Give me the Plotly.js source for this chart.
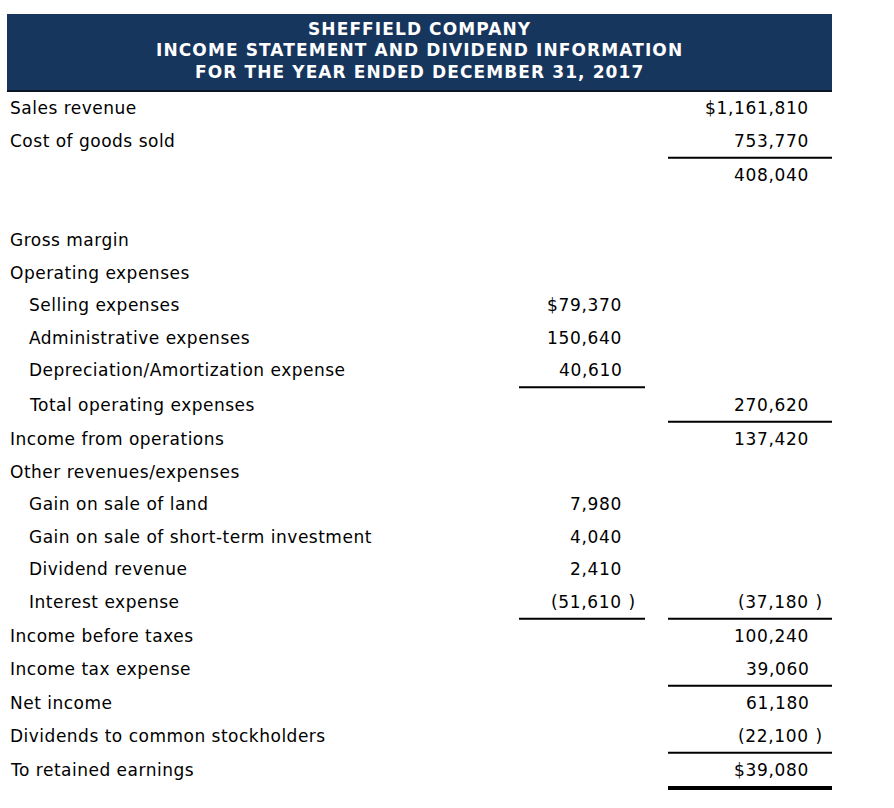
<!DOCTYPE html>
<html>
<head>
<meta charset="utf-8">
<script src="https://cdn.plot.ly/plotly-3.0.1.min.js"></script>
<style>html,body{margin:0;padding:0;background:#fff;}#chart{width:894px;height:808px;}</style>
</head>
<body>
<div id="chart"></div>
<script>
// ---- data ----
const titleLines = ["SHEFFIELD COMPANY", "INCOME STATEMENT AND DIVIDEND INFORMATION", "FOR THE YEAR ENDED DECEMBER 31, 2017"];
const rowLabels = ["Sales revenue", "Cost of goods sold", "", "", "Gross margin", "Operating expenses",
  "Selling expenses", "Administrative expenses", "Depreciation/Amortization expense", "Total operating expenses",
  "Income from operations", "Other revenues/expenses", "Gain on sale of land", "Gain on sale of short-term investment",
  "Dividend revenue", "Interest expense", "Income before taxes", "Income tax expense", "Net income",
  "Dividends to common stockholders", "To retained earnings"];
const rowIndent = [0,0,0,0,0,0,1,1,1,1,0,0,1,1,1,1,0,0,0,0,0];
const detailValues = [null,null,null,null,null,null,79370,150640,40610,null,null,null,7980,4040,2410,-51610,null,null,null,null,null];
const totalValues = [1161810,753770,408040,null,null,null,null,null,null,270620,137420,null,null,null,null,-37180,100240,39060,61180,-22100,39080];
const detailDollar = [6];
const totalDollar = [0, 20];
const detailRuleAfter = [8, 15];
const totalRuleAfter = [1, 9, 15, 17, 19];
const totalDoubleRuleAfter = [20];

// ---- layout helpers ----
const ROW_PX = 32.5, FIRST_ROW_PX = 108, H = 808, W = 894;
const RULE_GAP = 2 / ROW_PX;
const rowY = [];
let acc = 0;
for (let i = 0; i < rowLabels.length; i++) {
  if (i > 0) {
    acc += 1;
    if (detailRuleAfter.includes(i - 1) || totalRuleAfter.includes(i - 1)) acc += RULE_GAP;
  }
  rowY.push(acc);
}
const yTop = -FIRST_ROW_PX / ROW_PX, yBottom = (H - FIRST_ROW_PX) / ROW_PX;

const COL = {labelX: 10, indentX: 29, detailRight: 622, totalRight: 809,
             detailRule: [519, 645], totalRule: [668, 832]};
const FONT = "DejaVu Sans, Verdana, sans-serif";
const TXT = "#000000";
const FS = 17;
const SP_BODY = "letter-spacing:0.5px";
const SP_NUM = "letter-spacing:0.65px";
const SP_HEAD = "letter-spacing:1.1px";
const sp = (t, s) => '<span style="' + s + '">' + t + '</span>';

function fmt(v, dollar) {
  const s = Math.abs(v).toLocaleString("en-US");
  return (dollar ? "$" : "") + (v < 0 ? "(" : "") + s;
}

const annotations = [];
const base = {showarrow: false, xref: "x", yref: "y", borderpad: 0, borderwidth: 0, yanchor: "middle",
  font: {family: FONT, size: FS, color: TXT}};

rowLabels.forEach((lab, i) => {
  if (lab) annotations.push(Object.assign({}, base, {x: rowIndent[i] ? COL.indentX : COL.labelX, y: rowY[i], text: sp(lab, SP_BODY), xanchor: "left"}));
});
function addValues(vals, dollars, rightX) {
  vals.forEach((v, i) => {
    if (v === null) return;
    annotations.push(Object.assign({}, base, {x: rightX, y: rowY[i], text: sp(fmt(v, dollars.includes(i)), SP_NUM), xanchor: "right"}));
    if (v < 0) annotations.push(Object.assign({}, base, {x: rightX + 1, y: rowY[i], text: "\u00a0)", xanchor: "left"}));
  });
}
addValues(detailValues, detailDollar, COL.detailRight);
addValues(totalValues, totalDollar, COL.totalRight);

// header title lines
const headerPx = [29, 50, 72];
titleLines.forEach((t, k) => {
  annotations.push({showarrow: false, xref: "x", yref: "paper", x: 419.5, y: 1 - headerPx[k] / H,
    xanchor: "center", yanchor: "middle", text: "<b>" + sp(t, SP_HEAD) + "</b>", borderpad: 0,
    font: {family: FONT, size: FS, color: "#ffffff"}});
});

const shapes = [];
shapes.push({type: "rect", xref: "x", yref: "paper", x0: 7, x1: 832, y0: 1 - 14 / H, y1: 1 - 91 / H,
  fillcolor: "#17365d", line: {width: 0}, layer: "below"});
shapes.push({type: "line", xref: "x", yref: "paper", x0: 7, x1: 832, y0: 1 - 91 / H, y1: 1 - 91 / H,
  line: {color: "#0b1526", width: 2}});
function rule(i, range, width, extra) {
  const y = extra !== undefined ? rowY[i] + extra : (rowY[i] + rowY[i + 1]) / 2;
  shapes.push({type: "line", xref: "x", yref: "y", x0: range[0], x1: range[1], y0: y, y1: y,
    line: {color: "#000000", width: width}});
}
detailRuleAfter.forEach(i => rule(i, COL.detailRule, 2));
totalRuleAfter.forEach(i => rule(i, COL.totalRule, 2));
totalDoubleRuleAfter.forEach(i => rule(i, COL.totalRule, 4, 18 / ROW_PX));

const layout = {
  width: W, height: H,
  margin: {l: 0, r: 0, t: 0, b: 0},
  paper_bgcolor: "#ffffff", plot_bgcolor: "#ffffff",
  showlegend: false,
  xaxis: {range: [0, W], visible: false, fixedrange: true},
  yaxis: {range: [yBottom, yTop], visible: false, fixedrange: true},
  annotations: annotations,
  shapes: shapes
};
Plotly.newPlot("chart", [{type: "scatter", x: [], y: [], mode: "markers", hoverinfo: "skip"}], layout, {displayModeBar: false, staticPlot: true});
</script>
</body>
</html>
